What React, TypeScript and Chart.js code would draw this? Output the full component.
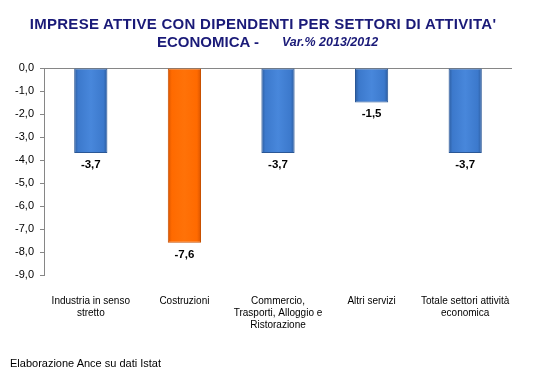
import React, { useEffect, useRef } from "react";
import { Chart, registerables } from "chart.js";

Chart.register(...registerables);

const categories: string[][] = [
  ["Industria in senso", "stretto"],
  ["Costruzioni"],
  ["Commercio,", "Trasporti, Alloggio e", "Ristorazione"],
  ["Altri servizi"],
  ["Totale settori attività", "economica"],
];
const values: number[] = [-3.7, -7.6, -3.7, -1.5, -3.7];
const highlightIndex = 1;
const yMin = -9;
const yMax = 0;
const yStep = 1;

const titleLine1 = "IMPRESE ATTIVE CON DIPENDENTI PER SETTORI DI ATTIVITA'";
const titleLine2a = "ECONOMICA -";
const titleLine2b = "Var.% 2013/2012";
const footerText = "Elaborazione Ance su dati Istat";

const FONT = "'Liberation Sans', Arial, Helvetica, sans-serif";
const BAR_PCT = 0.355;
const fmt = (v: number) => v.toFixed(1).replace(".", ",");

export default function App() {
  const ref = useRef<HTMLCanvasElement | null>(null);

  useEffect(() => {
    if (!ref.current) return;

    const labelPlugin = {
      id: "valueLabels",
      afterDatasetsDraw(chart: any) {
        const c = chart.ctx;
        const meta = chart.getDatasetMeta(0);
        c.save();
        c.font = `bold 11.5px ${FONT}`;
        c.fillStyle = "#000";
        c.textAlign = "center";
        c.textBaseline = "top";
        meta.data.forEach((el: any, i: number) => {
          c.fillText(fmt(values[i]), el.x, el.y + 6);
        });
        c.restore();
      },
    };

    const makeFill = (ctx: any) => {
      const isOrange = ctx.dataIndex === highlightIndex;
      const base = isOrange ? "#FF6A00" : "#3F7ED2";
      const chart = ctx.chart;
      if (ctx.type !== "data" || !chart.chartArea) return base;
      const xs = chart.scales.x;
      const cx = xs.getPixelForValue(ctx.dataIndex);
      const w = (xs.width / categories.length) * BAR_PCT;
      const g = chart.ctx.createLinearGradient(cx - w / 2, 0, cx + w / 2, 0);
      if (isOrange) {
        g.addColorStop(0, "#D95400");
        g.addColorStop(0.12, "#FF6A00");
        g.addColorStop(0.5, "#FF7208");
        g.addColorStop(0.88, "#FF6A00");
        g.addColorStop(1, "#D95400");
      } else {
        g.addColorStop(0, "#2C5C9E");
        g.addColorStop(0.12, "#3C79CC");
        g.addColorStop(0.5, "#4887DB");
        g.addColorStop(0.88, "#3C79CC");
        g.addColorStop(1, "#2C5C9E");
      }
      return g;
    };

    const chart = new Chart(ref.current, {
      type: "bar",
      data: {
        labels: categories,
        datasets: [
          {
            data: values,
            backgroundColor: makeFill,
            borderColor: (ctx: any) =>
              ctx.dataIndex === highlightIndex ? "#C85000" : "#2A5796",
            borderWidth: 1,
            borderSkipped: false,
            categoryPercentage: 1,
            barPercentage: BAR_PCT,
          },
        ],
      },
      options: {
        animation: false,
        responsive: false,
        maintainAspectRatio: false,
        layout: { padding: { top: 68, right: 24, left: 0, bottom: 0 } },
        plugins: {
          legend: { display: false },
          tooltip: { enabled: false },
          title: { display: false },
        },
        scales: {
          x: {
            position: "bottom",
            grid: { display: false, drawTicks: false },
            border: { display: false },
            ticks: {
              color: "#000",
              padding: 20,
              maxRotation: 0,
              minRotation: 0,
              autoSkip: false,
              font: { family: FONT, size: 10, lineHeight: 1.2 },
            },
            afterFit: (s: any) => {
              s.height = 98;
            },
          },
          y: {
            min: yMin,
            max: yMax,
            grid: {
              color: (ctx: any) =>
                ctx.tick && ctx.tick.value === 0 ? "#868686" : "rgba(0,0,0,0)",
              tickColor: "#868686",
              tickLength: 4,
              drawTicks: true,
            },
            border: { display: true, color: "#868686", width: 1 },
            ticks: {
              stepSize: yStep,
              color: "#000",
              padding: 6,
              font: { family: FONT, size: 11 },
              callback: (v: any) => fmt(Number(v)),
            },
            afterFit: (s: any) => {
              s.width = 44;
            },
          },
        },
      },
      plugins: [labelPlugin],
    } as any);

    return () => chart.destroy();
  }, []);

  const navy = "#1A1A78";
  return (
    <div
      style={{
        position: "absolute",
        left: 0,
        top: 0,
        width: 536,
        height: 373,
        background: "#fff",
        overflow: "hidden",
        fontFamily: FONT,
      }}
    >
      <canvas
        ref={ref}
        width={536}
        height={373}
        style={{ position: "absolute", left: 0, top: 0, width: 536, height: 373 }}
      />
      <div
        style={{
          position: "absolute",
          left: 0,
          top: 15.6,
          width: 526,
          textAlign: "center",
          whiteSpace: "nowrap",
          fontWeight: "bold",
          fontSize: 15,
          lineHeight: "15px",
          letterSpacing: "0.28px",
          color: navy,
        }}
      >
        {titleLine1}
      </div>
      <div
        style={{
          position: "absolute",
          left: 157,
          top: 34,
          whiteSpace: "nowrap",
          fontWeight: "bold",
          fontSize: 15,
          lineHeight: "15px",
          color: navy,
        }}
      >
        {titleLine2a}
      </div>
      <div
        style={{
          position: "absolute",
          left: 282,
          top: 36.1,
          whiteSpace: "nowrap",
          fontWeight: "bold",
          fontStyle: "italic",
          fontSize: 12.5,
          lineHeight: "12.5px",
          color: navy,
        }}
      >
        {titleLine2b}
      </div>
      <div
        style={{
          position: "absolute",
          left: 10,
          top: 357.5,
          whiteSpace: "nowrap",
          fontSize: 11,
          lineHeight: "11px",
          color: "#000",
        }}
      >
        {footerText}
      </div>
    </div>
  );
}
